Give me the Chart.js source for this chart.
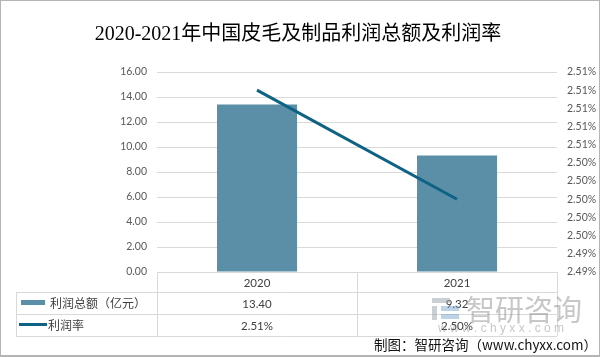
<!DOCTYPE html>
<html>
<head>
<meta charset="utf-8">
<script src="https://cdn.jsdelivr.net/npm/chart.js@4.4.1/dist/chart.umd.min.js"></script>
<style>
  html, body { margin: 0; padding: 0; background: #fff; }
  #wrap { position: relative; width: 600px; height: 357px; box-sizing: border-box; }
  #wrap:after { content: ""; position: absolute; left: 0; top: 0; right: 0; bottom: 0; border: 1px solid #b4b4b4; border-bottom-width: 2px; pointer-events: none; }
  canvas { display: block; }
</style>
</head>
<body>
<div id="wrap"><canvas id="c" width="600" height="357"></canvas></div>
<script>
// ---- data ----
const categories = ['2020', '2021'];
const profitTotal = [13.40, 9.32];          // 利润总额（亿元）
const profitRate = [2.512, 2.500];          // 利润率 (%)
const leftTicks = [0, 2, 4, 6, 8, 10, 12, 14, 16];
const rateTicks = [2.492, 2.494, 2.496, 2.498, 2.500, 2.502, 2.504, 2.506, 2.508, 2.510, 2.512, 2.514];
const seriesNames = ['利润总额（亿元）', '利润率'];
const titleText = '2020-2021年中国皮毛及制品利润总额及利润率';
const sourceText = '制图：智研咨询（www.chyxx.com）';

const barColor = '#5b8fa7';
const lineColor = '#0e6384';
const gridColor = '#d9d9d9';
const labelFont = 'Lato, "Liberation Sans", "Noto Sans CJK SC", sans-serif';
const fmt2 = v => (Math.round(v * 100 + 1e-7) / 100).toFixed(2);

const overlay = {
  id: 'overlay',
  afterDraw(chart) {
    const ctx = chart.ctx;
    const xs = chart.scales.x;
    const area = chart.chartArea;
    const px = categories.map((c, i) => xs.getPixelForValue(i));
    const L = area.left, R = area.right, B = area.bottom;
    const tLeft = 16;
    const rowH = [B, B + 20, B + 42, B + 64];
    ctx.save();
    // title
    ctx.fillStyle = '#000';
    ctx.font = '20px "Liberation Serif", "Noto Sans CJK SC", serif';
    ctx.textAlign = 'center';
    ctx.textBaseline = 'middle';
    ctx.fillText(titleText, 298, 35);

    // table lines
    ctx.strokeStyle = gridColor;
    ctx.lineWidth = 1;
    ctx.beginPath();
    ctx.moveTo(L, rowH[0] + 0.5); ctx.lineTo(R, rowH[0] + 0.5);
    for (let k = 1; k < 4; k++) { ctx.moveTo(tLeft, rowH[k] + 0.5); ctx.lineTo(R, rowH[k] + 0.5); }
    ctx.moveTo(tLeft + 0.5, rowH[1]); ctx.lineTo(tLeft + 0.5, rowH[3]);
    const vx = [L, (px[0] + px[1]) / 2, R];
    vx.forEach(v => { ctx.moveTo(Math.round(v) + 0.5, rowH[0]); ctx.lineTo(Math.round(v) + 0.5, rowH[3]); });
    ctx.stroke();

    // table text
    ctx.fillStyle = '#404040';
    ctx.font = '11.5px ' + labelFont;
    ctx.textAlign = 'center';
    categories.forEach((c, i) => {
      ctx.fillText(c, px[i], rowH[0] + 11);
      ctx.fillText(fmt2(profitTotal[i]), px[i], rowH[1] + 12);
      ctx.fillText(fmt2(profitRate[i]) + '%', px[i], rowH[2] + 12);
    });
    // legend keys
    ctx.fillStyle = barColor;
    ctx.fillRect(21, rowH[1] + 8, 24, 5);
    ctx.strokeStyle = lineColor;
    ctx.lineWidth = 3;
    ctx.beginPath(); ctx.moveTo(19, rowH[2] + 10.5); ctx.lineTo(47, rowH[2] + 10.5); ctx.stroke();
    ctx.fillStyle = '#404040';
    ctx.font = '12px "Noto Sans CJK SC", sans-serif';
    ctx.textAlign = 'left';
    ctx.fillText(seriesNames[0], 50, rowH[1] + 11);
    ctx.fillText(seriesNames[1], 48, rowH[2] + 11);

    // watermark
    ctx.fillStyle = 'rgba(140,150,160,0.45)';
    ctx.fillRect(432, 298, 18, 5);
    ctx.fillRect(432, 306, 5, 14);
    ctx.fillStyle = 'rgba(110,160,200,0.45)';
    ctx.fillRect(441, 306, 18, 5);
    ctx.fillRect(441, 314, 18, 5);
    ctx.fillStyle = 'rgba(130,130,130,0.45)';
    ctx.font = '29px "Noto Sans CJK SC", sans-serif';
    ctx.fillText('智研咨询', 466, 310);
    ctx.font = '12px "Liberation Sans", sans-serif';
    ctx.fillText('w w w . c h y x x . c o m', 438, 329);

    // source
    ctx.fillStyle = '#111';
    ctx.font = '13.5px "Noto Sans CJK SC", sans-serif';
    ctx.textAlign = 'right';
    ctx.fillText(sourceText, 597, 345);
    ctx.restore();
  }
};

new Chart(document.getElementById('c'), {
  data: {
    labels: categories,
    datasets: [
      { type: 'line', label: seriesNames[1], data: profitRate, yAxisID: 'y1', borderColor: lineColor, borderWidth: 3, pointRadius: 0, fill: false, order: 0, tension: 0 },
      { type: 'bar', label: seriesNames[0], data: profitTotal, yAxisID: 'y', backgroundColor: barColor, barPercentage: 0.4, categoryPercentage: 1.0, order: 1 }
    ]
  },
  options: {
    responsive: false,
    animation: false,
    devicePixelRatio: 1,
    layout: { padding: { left: 0, right: 0, top: 72, bottom: 85 } },
    plugins: { legend: { display: false }, tooltip: { enabled: false }, title: { display: false } },
    scales: {
      x: { display: false, offset: true },
      y: {
        position: 'left', min: 0, max: 16,
        afterBuildTicks: s => { s.ticks = leftTicks.map(v => ({ value: v })); },
        afterFit: s => { s.width = 157; },
        grid: { color: gridColor, drawTicks: false, lineWidth: 1 },
        border: { display: false },
        ticks: { padding: 10, color: '#595959', font: { family: labelFont, size: 10.5 }, callback: v => fmt2(Number(v)) }
      },
      y1: {
        position: 'right', min: rateTicks[0], max: rateTicks[rateTicks.length - 1],
        afterBuildTicks: s => { s.ticks = rateTicks.map(v => ({ value: v })); },
        afterFit: s => { s.width = 43; },
        grid: { display: false, drawTicks: false },
        border: { display: false },
        ticks: { padding: 10, color: '#595959', font: { family: labelFont, size: 10.5 }, callback: v => fmt2(Number(v)) + '%' }
      }
    }
  },
  plugins: [overlay]
});
</script>
</body>
</html>
